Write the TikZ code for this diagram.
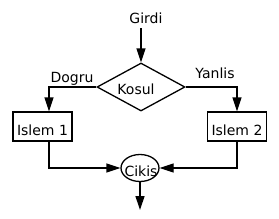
\documentclass[tikz,border=0pt]{standalone}
\usepackage{fontspec}
\setmainfont{DejaVu Sans}
\usetikzlibrary{arrows.meta,shapes.geometric}
\begin{document}
\begin{tikzpicture}[x=1pt,y=-1pt,
  line width=1.3pt,
  arr/.style={-{Triangle[length=14pt,width=9pt]}},
  txt/.style={font=\fontsize{14}{16}\selectfont, inner sep=0pt},
  box/.style={draw, rectangle, minimum width=59pt, minimum height=29pt, inner sep=0pt,
              text height=17pt, text depth=0pt, font=\fontsize{14}{16}\selectfont},
  dia/.style={draw, diamond, aspect=1.833, minimum width=88pt, minimum height=48pt, inner sep=0pt},
  ell/.style={draw, ellipse, minimum width=38pt, minimum height=27pt, inner sep=0pt}]
\useasboundingbox (0,0) rectangle (279,218);
\node[txt, anchor=base] (girdi) at (146,23) {Girdi};
\coordinate (gstart) at (141,28);
\node[dia] (kosul) at (141,87) {};
\node[txt, anchor=base] (kosultxt) at (136,94) {Kosul};
\node[txt, anchor=base] (dogru) at (72,82) {Dogru};
\node[txt, anchor=base] (yanlis) at (215,78) {Yanlis};
\node[box] (islem1) at (42.5,126.5) {Islem 1};
\node[box] (islem2) at (237,126.5) {Islem 2};
\node[ell] (cikis) at (140,168) {};
\node[txt, anchor=base] (cikistxt) at (141,176) {Cikis};
\coordinate (out) at (140,210);
\draw[arr] (gstart) -- (kosul.north);
\draw[arr] (kosul.west) -| ([xshift=6.5pt]islem1.north);
\draw[arr] (kosul.east) -| (islem2.north);
\draw[arr] ([xshift=6.5pt]islem1.south) |- (cikis.west);
\draw[arr] (islem2.south) |- (cikis.east);
\draw[arr] (cikis.south) -- (out);
\end{tikzpicture}
\end{document}
